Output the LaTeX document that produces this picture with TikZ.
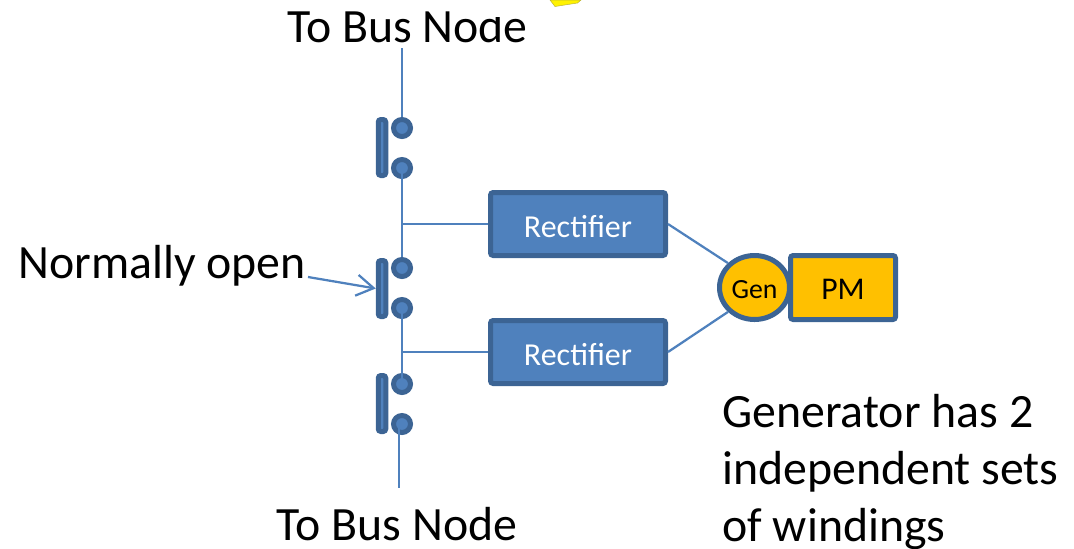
\documentclass[tikz,border=0pt]{standalone}
\usepackage{fontspec}
\setmainfont{Carlito}
\usetikzlibrary{arrows.meta, shapes.geometric}
\definecolor{fillblue}{HTML}{4F81BD}
\definecolor{edgeblue}{HTML}{3C6494}
\definecolor{genyellow}{HTML}{FFC000}
\tikzstyle{rectifier} = [rectangle, rounded corners=1.5pt, minimum width=3.5cm, minimum height=1.26cm, text centered, text height=0.53cm, text depth=0pt, line width=0.1cm, draw=edgeblue, fill=fillblue, text=white, font=\fontsize{18.2}{21}\selectfont]
\tikzstyle{contact} = [circle, minimum size=0.34cm, inner sep=0pt, line width=0.1cm, draw=edgeblue, fill=fillblue]
\tikzstyle{bar} = [rectangle, rounded corners=1.5pt, minimum width=0.15cm, minimum height=1.12cm, inner sep=0pt, line width=0.1cm, draw=edgeblue, fill=fillblue]
\tikzstyle{gen} = [ellipse, minimum width=1.4cm, minimum height=1.28cm, inner sep=0pt, text height=0.43cm, text depth=0pt, line width=0.1cm, draw=edgeblue, fill=genyellow, text=black, font=\fontsize{15.8}{18}\selectfont]
\tikzstyle{pm} = [rectangle, rounded corners=1.5pt, minimum width=2.1cm, minimum height=1.28cm, text height=0.48cm, text depth=0pt, line width=0.1cm, draw=edgeblue, fill=genyellow, text=black, font=\fontsize{18}{21}\selectfont]
\tikzstyle{caption} = [inner sep=0pt, text=black, font=\fontsize{27.2}{32.4}\selectfont]
\tikzstyle{wire} = [line width=0.045cm, draw=fillblue]
\begin{document}
\begin{tikzpicture}
\useasboundingbox (0,0) rectangle (21.48,-10.96);
\node (topbus) [caption, anchor=base] at (8.15,-0.84) {To Bus Node};
\fill[white] (9.72,0) rectangle (10.02,-0.34);
\node (botbus) [caption, anchor=base] at (7.94,-10.8) {To Bus Node};
\node (open) [caption, anchor=base west] at (0.36,-5.56) {Normally open};
\node (note) [caption, anchor=north west, align=left] at (14.44,-7.88) {Generator has 2\\independent sets\\of windings};
\fill[yellow, draw=yellow!70!black, line width=0.01cm] (11,0) -- (11.62,0) -- (11.55,-0.06) -- (11.1,-0.13) -- cycle;

\coordinate (topend) at (8.04,-0.96);
\coordinate (botend) at (7.98,-9.76);

\node (bar1) [bar] at (7.64,-2.95) {};
\node (bar2) [bar] at (7.64,-5.77) {};
\node (bar3) [bar] at (7.64,-8.07) {};
\node (c1a) [contact] at (8.04,-2.56) {};
\node (c1b) [contact] at (8.04,-3.36) {};
\node (c2a) [contact] at (8.04,-5.36) {};
\node (c2b) [contact] at (8.04,-6.16) {};
\node (c3a) [contact] at (8.04,-7.68) {};
\node (c3b) [contact] at (8.04,-8.48) {};

\node (rect1) [rectifier] at (11.56,-4.48) {Rectifier};
\node (rect2) [rectifier] at (11.56,-7.04) {Rectifier};
\node (pm) [pm] at (16.86,-5.75) {PM};
\node (gen) [gen] at (15.09,-5.75) {Gen};

\coordinate (tee1) at (c1b |- rect1.west);
\coordinate (tee2) at (c1b |- rect2.west);
\coordinate (openend) at (6.16,-5.54);

\draw [wire] (topend) -- (c1a.north);
\draw [wire] (c1b.center) -- (c2a.north);
\draw [wire] (c2b.center) -- (c3a.center);
\draw [wire] (c3b.center -| botend) -- (botend);
\draw [wire] (tee1) -- (rect1.west);
\draw [wire] (tee2) -- (rect2.west);
\draw [wire] (rect1.east) -- (gen.north west);
\draw [wire] (rect2.east) -- (gen.south west);
\draw [wire, -{Straight Barb[length=0.34cm,width=0.42cm]}] (openend) -- (bar2.west);
\end{tikzpicture}
\end{document}
